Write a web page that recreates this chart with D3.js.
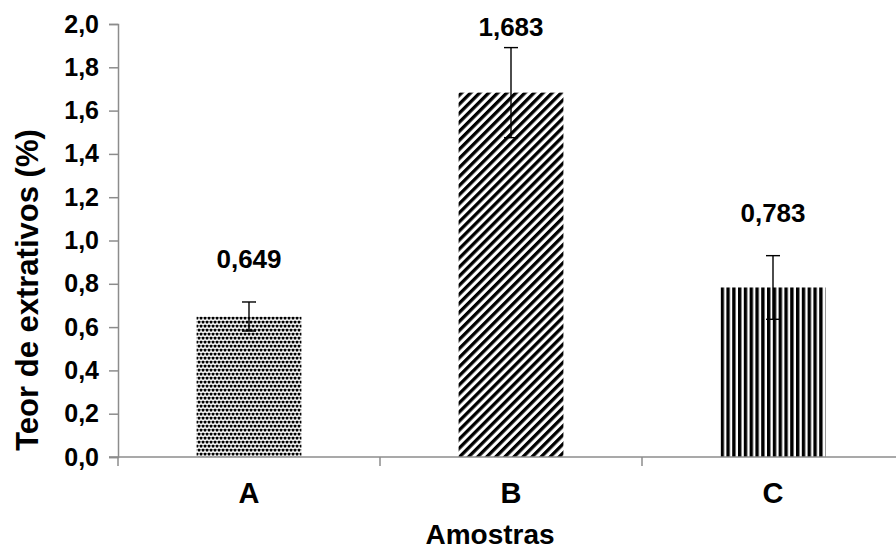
<!DOCTYPE html>
<html>
<head>
<meta charset="utf-8">
<script src="https://cdn.jsdelivr.net/npm/d3@7"></script>
<style>
  html, body { margin: 0; padding: 0; background: #fff; }
  svg { display: block; }
  text { font-family: "Liberation Sans", Arial, sans-serif; font-weight: bold; fill: #000; }
</style>
</head>
<body>
<svg id="chart" width="896" height="550"></svg>
<script>
// Extractive content per sample (mean and standard deviation)
const categories = ["A", "B", "C"];
const means = [0.649, 1.683, 0.783];
const deviations = [0.067, 0.208, 0.147];
const yTicks = [0, 0.2, 0.4, 0.6, 0.8, 1.0, 1.2, 1.4, 1.6, 1.8, 2.0];
const fills = ["dots", "diag", "vert"];

const pt = d3.formatLocale({ decimal: ",", thousands: ".", grouping: [3], currency: ["R$", ""] });
const fmtTick = pt.format(".1f");
const fmtValue = pt.format(".3f");

const svg = d3.select("#chart");
const axisColor = "#8c8c8c";

const y = d3.scaleLinear().domain([0, 2]).range([457, 24]);
const x = d3.scaleBand().domain(categories).range([118, 904])
  .paddingInner(0.6).paddingOuter(0.3);

// Fill patterns
const defs = svg.append("defs");
const dots = defs.append("pattern").attr("id", "dots")
  .attr("patternUnits", "userSpaceOnUse").attr("width", 4).attr("height", 8)
  .attr("x", Math.round(x("A"))).attr("y", 0);
[[0.7, 0.7], [2.7, 4.7], [-1.3, 4.7]].forEach(([dx, dy]) => {
  dots.append("rect").attr("x", dx).attr("y", dy).attr("width", 2.7).attr("height", 2.7)
    .attr("rx", 0.6).attr("fill", "#000");
});

const diag = defs.append("pattern").attr("id", "diag")
  .attr("patternUnits", "userSpaceOnUse").attr("width", 6.4).attr("height", 10)
  .attr("patternTransform", "rotate(45)");
diag.append("rect").attr("x", 0).attr("y", 0).attr("width", 3.3).attr("height", 10).attr("fill", "#000");

const vert = defs.append("pattern").attr("id", "vert")
  .attr("patternUnits", "userSpaceOnUse").attr("width", 5.8).attr("height", 10)
  .attr("x", x("C"));
vert.append("rect").attr("x", 0).attr("y", 0).attr("width", 3.4).attr("height", 10).attr("fill", "#000");

const data = categories.map((c, i) => ({ c, v: means[i], e: deviations[i], f: fills[i] }));

// Bars
svg.append("g").selectAll("rect").data(data).join("rect")
  .attr("x", d => x(d.c))
  .attr("width", x.bandwidth())
  .attr("y", d => y(d.v))
  .attr("height", d => y(0) - y(d.v))
  .attr("fill", d => `url(#${d.f})`);

// Y axis
const yAxis = svg.append("g").attr("transform", "translate(118,0)")
  .call(d3.axisLeft(y).tickValues(yTicks).tickFormat(fmtTick).tickSize(9).tickPadding(10));
yAxis.select(".domain").attr("stroke", axisColor).attr("stroke-width", 1.5);
yAxis.selectAll(".tick line").attr("stroke", axisColor).attr("stroke-width", 1.5);
yAxis.selectAll(".tick text").style("font-size", "25px").style("font-family", "Liberation Sans, Arial, sans-serif").style("font-weight", "bold").attr("fill", "#000");

// X axis: category labels, baseline and boundary ticks
const xAxis = svg.append("g").attr("transform", `translate(0,${y(0)})`)
  .call(d3.axisBottom(x).tickSize(0).tickPadding(25));
xAxis.select(".domain").remove();
xAxis.selectAll(".tick text").style("font-size", "29px").style("font-family", "Liberation Sans, Arial, sans-serif").style("font-weight", "bold").attr("fill", "#000");

svg.append("line").attr("x1", 109).attr("x2", 896).attr("y1", y(0)).attr("y2", y(0))
  .attr("stroke", axisColor).attr("stroke-width", 1.5);
const step = x.step();
const boundaries = categories.map(c => x(c) - (step - x.bandwidth()) / 2);
svg.append("g").selectAll("line").data(boundaries).join("line")
  .attr("x1", d => d).attr("x2", d => d)
  .attr("y1", y(0)).attr("y2", y(0) + 9)
  .attr("stroke", axisColor).attr("stroke-width", 1.5);

// Error bars
const err = svg.append("g").attr("stroke", "#000").attr("stroke-width", 1.4);
data.forEach(d => {
  const cx = x(d.c) + x.bandwidth() / 2;
  err.append("line").attr("x1", cx).attr("x2", cx).attr("y1", y(d.v + d.e)).attr("y2", y(d.v - d.e));
  err.append("line").attr("x1", cx - 7).attr("x2", cx + 7).attr("y1", y(d.v + d.e)).attr("y2", y(d.v + d.e));
  err.append("line").attr("x1", cx - 7).attr("x2", cx + 7).attr("y1", y(d.v - d.e)).attr("y2", y(d.v - d.e));
});

// Value labels
svg.append("g").selectAll("text").data(data).join("text")
  .attr("x", d => x(d.c) + x.bandwidth() / 2)
  .attr("y", d => Math.max(y(d.v + d.e) - 34, 36))
  .attr("text-anchor", "middle")
  .style("font-size", "26px")
  .text(d => fmtValue(d.v));

// Axis titles
svg.append("text").attr("x", 490).attr("y", 544).attr("text-anchor", "middle")
  .style("font-size", "28px").text("Amostras");
svg.append("text").attr("transform", "rotate(-90)")
  .attr("x", -290).attr("y", 38).attr("text-anchor", "middle")
  .style("font-size", "31px").text("Teor de extrativos (%)");
</script>
</body>
</html>
